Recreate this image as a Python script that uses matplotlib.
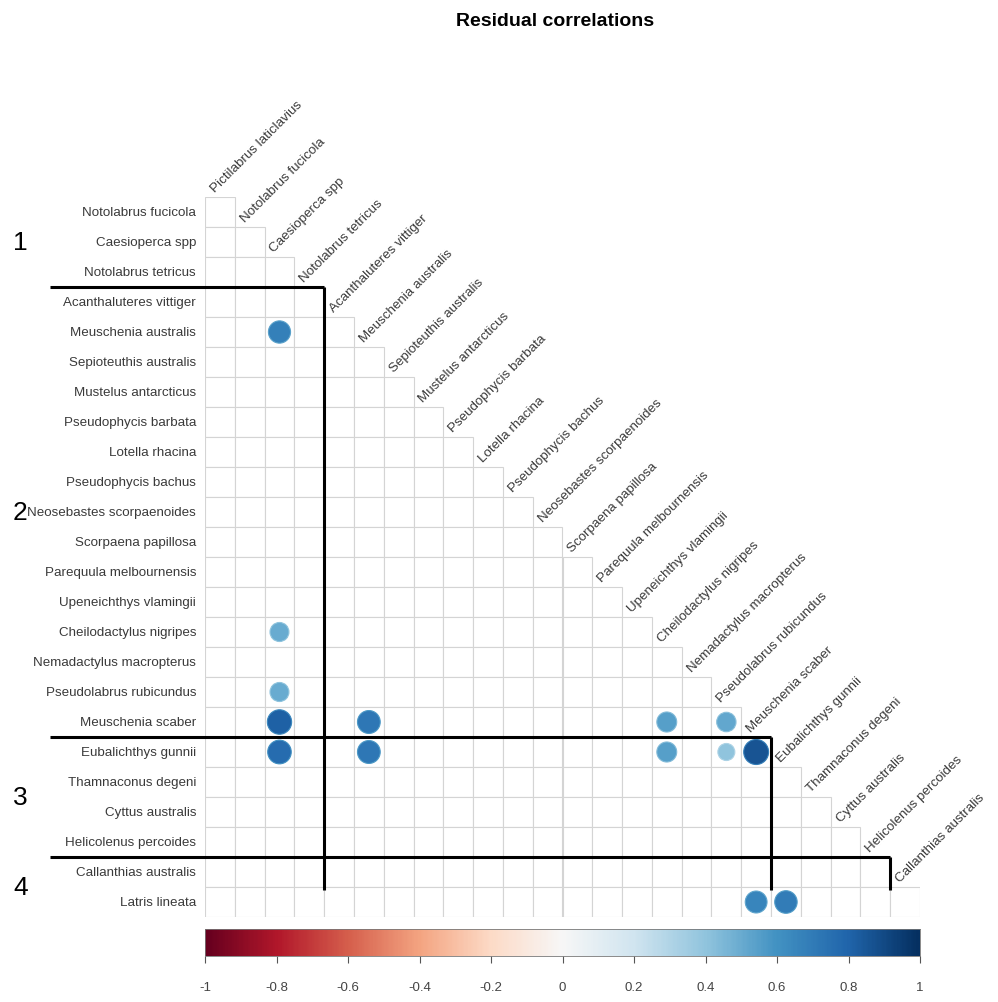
import numpy as np
import matplotlib
matplotlib.use("Agg")
import matplotlib.pyplot as plt
from matplotlib.patches import Rectangle, Circle
from matplotlib.colors import Normalize

plt.rcParams['font.family'] = ['Liberation Sans', 'DejaVu Sans']

species = [
    'Pictilabrus laticlavius', 'Notolabrus fucicola', 'Caesioperca spp',
    'Notolabrus tetricus', 'Acanthaluteres vittiger', 'Meuschenia australis',
    'Sepioteuthis australis', 'Mustelus antarcticus', 'Pseudophycis barbata',
    'Lotella rhacina', 'Pseudophycis bachus', 'Neosebastes scorpaenoides',
    'Scorpaena papillosa', 'Parequula melbournensis', 'Upeneichthys vlamingii',
    'Cheilodactylus nigripes', 'Nemadactylus macropterus',
    'Pseudolabrus rubicundus', 'Meuschenia scaber', 'Eubalichthys gunnii',
    'Thamnaconus degeni', 'Cyttus australis', 'Helicolenus percoides',
    'Callanthias australis', 'Latris lineata',
]

# significant residual correlations: (row species, column species, value)
pair_row = ['Meuschenia australis', 'Cheilodactylus nigripes',
            'Pseudolabrus rubicundus', 'Meuschenia scaber', 'Meuschenia scaber',
            'Meuschenia scaber', 'Meuschenia scaber', 'Eubalichthys gunnii',
            'Eubalichthys gunnii', 'Eubalichthys gunnii', 'Eubalichthys gunnii',
            'Eubalichthys gunnii', 'Latris lineata', 'Latris lineata']
pair_col = ['Caesioperca spp', 'Caesioperca spp', 'Caesioperca spp',
            'Caesioperca spp', 'Meuschenia australis', 'Cheilodactylus nigripes',
            'Pseudolabrus rubicundus', 'Caesioperca spp', 'Meuschenia australis',
            'Cheilodactylus nigripes', 'Pseudolabrus rubicundus',
            'Meuschenia scaber', 'Meuschenia scaber', 'Eubalichthys gunnii']
pair_val = [0.68, 0.50, 0.50, 0.82, 0.72, 0.55, 0.52, 0.77, 0.72, 0.55,
            0.40, 0.86, 0.66, 0.70]

# cluster sizes along the ordering
cluster_sizes = [4, 15, 4, 2]

bar_ticks = [-1, -0.8, -0.6, -0.4, -0.2, 0, 0.2, 0.4, 0.6, 0.8, 1]
bar_labels = ['-1', '-0.8', '-0.6', '-0.4', '-0.2', '0', '0.2', '0.4', '0.6',
              '0.8', '1']

n = len(species)
corr = np.zeros((n, n))
for r, c, v in zip(pair_row, pair_col, pair_val):
    corr[species.index(r), species.index(c)] = v

W, H = 998, 1003
fig = plt.figure(figsize=(W / 100, H / 100), dpi=100)
ax = fig.add_axes([205 / W, 1 - 918 / H, 715 / W, 720 / H])
ax.set_xlim(0, n - 1)
ax.set_ylim(n - 1, 0)
ax.axis('off')

cmap = plt.get_cmap('RdBu')
norm = Normalize(-1, 1)
txt_col = '#3a3a3a'
lab_size = 9.6

# lower triangle cells and circles
for i in range(1, n):
    y = i - 1
    for j in range(i):
        ax.add_patch(Rectangle((j, y), 1, 1, facecolor='white',
                               edgecolor='#d4d4d4', lw=0.8, zorder=1))
        v = corr[i, j]
        if v != 0:
            rad = 0.45 * np.sqrt(abs(v))
            ax.add_patch(Circle((j + 0.5, y + 0.5), rad, facecolor=cmap(norm(v)),
                                edgecolor=cmap(norm(v * 0.8)), lw=0.8, zorder=3))
    ax.text(-0.3, y + 0.5, species[i], ha='right', va='center',
            fontsize=lab_size, color=txt_col, clip_on=False)

for j in range(n - 1):
    ax.text(j + 0.4, j - 0.1, species[j], rotation=45, rotation_mode='anchor',
            ha='left', va='bottom', fontsize=lab_size, color=txt_col,
            clip_on=False)

# cluster boundaries
bounds = np.cumsum(cluster_sizes)
x_left = -5.2
line_kw = dict(color='black', lw=2.2, clip_on=False, zorder=5,
               solid_capstyle='butt')
start = 0
for k, b in enumerate(bounds):
    top = max(start - 1, 0)
    mid = (top + b - 1) / 2
    ax.text(-6.2, mid, str(k + 1), ha='center', va='center', fontsize=19,
            color='black', clip_on=False)
    if b < n:
        yb = b - 1
        ax.plot([x_left, b], [yb, yb], **line_kw)
        ax.plot([b, b], [yb, n - 1.9], **line_kw)
    start = b

# colour legend
cax = fig.add_axes([205 / W, 1 - 957 / H, 715 / W, 27 / H])
grad = np.linspace(-1, 1, 400).reshape(1, -1)
cax.imshow(grad, cmap=cmap, norm=norm, aspect='auto', extent=[-1, 1, 0, 1])
cax.set_xticks(bar_ticks)
cax.set_xticklabels(bar_labels, fontsize=9.5, color='#444444')
cax.set_yticks([])
cax.tick_params(axis='x', length=5, width=0.8, color='#555555', pad=13)
for s in cax.spines.values():
    s.set_color('#777777')
    s.set_linewidth(0.6)

fig.text(555 / W, 1 - 22 / H, 'Residual correlations', ha='center', va='center',
         fontsize=14, fontweight='bold')

fig.savefig('out.png', dpi=100, facecolor='white')
